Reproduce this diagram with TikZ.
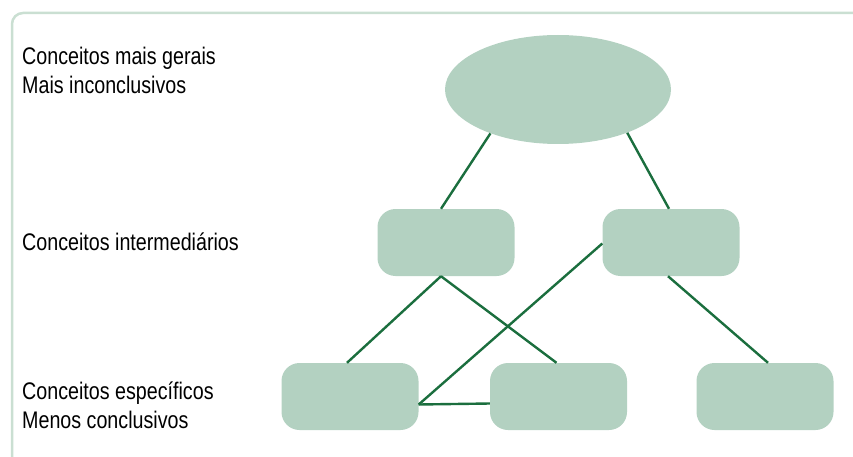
\documentclass[tikz,border=0pt]{standalone}
\usepackage{fontspec}
\setmainfont{Liberation Sans}[FakeStretch=0.82]
\usetikzlibrary{shapes.geometric}
\definecolor{boxfill}{HTML}{B3D1C1}
\definecolor{linkgreen}{HTML}{1B6E3E}
\definecolor{framegreen}{HTML}{CADFD2}
\tikzset{
  conceptbox/.style={draw=none, fill=boxfill, rounded corners=18pt, minimum width=137pt, minimum height=67pt, inner sep=0pt},
  topellipse/.style={ellipse, draw=none, fill=boxfill, minimum width=226pt, minimum height=109pt, inner sep=0pt},
  link/.style={draw=linkgreen, line width=2.4pt},
  lbl/.style={anchor=base west, inner sep=0pt, text=black, font=\fontsize{24}{30}\selectfont},
  framestyle/.style={draw=framegreen, line width=2.5pt}
}
\begin{document}
\begin{tikzpicture}[x=1pt,y=-1pt]
\useasboundingbox (0,0) rectangle (853,457);
\draw[framestyle, rounded corners=11pt] (12,460) -- (12,13) -- (856,13);

\node[topellipse] (E) at (558,89.5) {};
\node[conceptbox] (ML) at (446,242.5) {};
\node[conceptbox] (MR) at (671,242.5) {};
\node[conceptbox] (BL) at (350,396.5) {};
\node[conceptbox] (BM) at (558.5,396.5) {};
\node[conceptbox] (BR) at (765,396.5) {};

\draw[link] (E.213) -- ([xshift=-5pt]ML.north);
\draw[link] (E.328.5) -- ([xshift=-2pt]MR.north);
\draw[link] ([xshift=-5pt]ML.south) -- ([xshift=-3pt]BL.north);
\draw[link] ([xshift=-5pt]ML.south) -- ([xshift=-2pt]BM.north);
\draw[link] ([yshift=-1pt]MR.west) -- ([yshift=-8pt]BL.east);
\draw[link] ([yshift=-8pt]BL.east) -- ([yshift=-7pt]BM.west);
\draw[link] ([xshift=-3pt]MR.south) -- ([xshift=3pt]BR.north);

\node[lbl] (t1) at (22,65) {Conceitos mais gerais};
\node[lbl] (t2) at (22,94) {Mais inconclusivos};
\node[lbl] (t3) at (22,250) {Conceitos intermediários};
\node[lbl] (t4) at (22,399) {Conceitos específicos};
\node[lbl] (t5) at (22,428) {Menos conclusivos};
\end{tikzpicture}
\end{document}
